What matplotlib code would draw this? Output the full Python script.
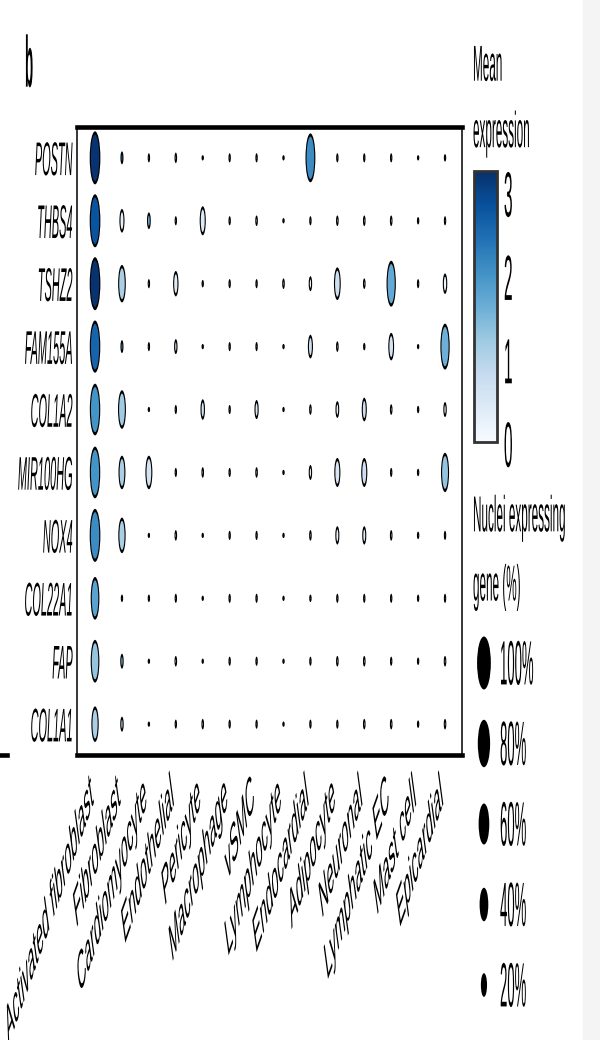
import numpy as np
import matplotlib
matplotlib.use('Agg')
import matplotlib.pyplot as plt
from matplotlib.collections import EllipseCollection
from matplotlib.patheffects import AbstractPathEffect
from matplotlib.transforms import Affine2D
from matplotlib.colors import Normalize
from matplotlib.cm import ScalarMappable
from matplotlib.lines import Line2D
from matplotlib.patches import Rectangle

plt.rcParams['font.family'] = ['Liberation Sans', 'DejaVu Sans']

# ---------------- data ----------------
genes = ['POSTN', 'THBS4', 'TSHZ2', 'FAM155A', 'COL1A2', 'MIR100HG',
         'NOX4', 'COL22A1', 'FAP', 'COL1A1']
cell_types = ['Activated fibroblast', 'Fibroblast', 'Cardiomyocyte',
              'Endothelial', 'Pericyte', 'Macrophage', 'vSMC', 'Lymphocyte',
              'Endocardial', 'Adipocyte', 'Neuronal', 'Lymphatic EC',
              'Mast cell', 'Epicardial']

# percentage of nuclei expressing gene (rows = genes, cols = cell types)
pct_postn    = [100, 6, 3, 4, 1, 3, 3, 1, 85, 3, 3, 3, 1, 2]
pct_thbs4    = [100, 20, 10, 3, 30, 3, 4, 1, 3, 4, 4, 4, 2, 3]
pct_tshz2    = [100, 50, 3, 23, 2, 3, 3, 4, 8, 38, 4, 75, 3, 15]
pct_fam155a  = [97, 6, 3, 8, 1, 3, 3, 1, 20, 4, 2, 27, 1, 75]
pct_col1a2   = [95, 53, 1, 3, 15, 3, 13, 1, 4, 10, 20, 4, 2, 8]
pct_mir100hg = [95, 40, 40, 3, 4, 3, 4, 1, 8, 30, 30, 3, 2, 55]
pct_nox4     = [100, 45, 1, 4, 1, 3, 3, 1, 4, 12, 12, 4, 2, 3]
pct_col22a1  = [65, 2, 2, 3, 1, 3, 3, 1, 2, 3, 3, 3, 2, 3]
pct_fap      = [65, 8, 1, 4, 1, 3, 3, 1, 3, 4, 4, 3, 2, 4]
pct_col1a1   = [45, 8, 1, 3, 4, 3, 3, 1, 3, 3, 4, 4, 2, 4]

# mean expression
expr_postn    = [3.2, 2.5, 0.5, 1.5, 0.1, 0.5, 0.5, 0.1, 2.1, 0.5, 0.5, 0.5, 0.1, 0.3]
expr_thbs4    = [2.8, 0.3, 1.5, 0.5, 0.45, 0.3, 0.3, 0.1, 0.3, 0.3, 0.3, 0.3, 0.1, 0.2]
expr_tshz2    = [3.2, 1.1, 0.3, 0.4, 0.2, 0.3, 0.3, 0.3, 0.2, 0.7, 0.3, 1.7, 0.3, 0.2]
expr_fam155a  = [2.6, 2.0, 0.3, 0.8, 0.1, 0.3, 0.3, 0.1, 0.7, 0.3, 0.3, 0.6, 0.1, 1.6]
expr_col1a2   = [2.0, 1.2, 0.1, 0.3, 0.6, 0.3, 0.5, 0.1, 0.3, 0.3, 0.7, 0.3, 0.1, 0.3]
expr_mir100hg = [2.0, 1.1, 0.6, 0.3, 0.3, 0.3, 0.3, 0.1, 0.3, 0.5, 0.7, 0.3, 0.1, 1.3]
expr_nox4     = [2.1, 1.1, 0.1, 0.3, 0.1, 0.3, 0.3, 0.1, 0.3, 0.2, 0.4, 0.3, 0.1, 0.2]
expr_col22a1  = [1.8, 0.1, 0.1, 0.3, 0.1, 0.2, 0.2, 0.1, 0.2, 0.2, 0.2, 0.2, 0.1, 0.2]
expr_fap      = [1.3, 1.5, 0.1, 0.3, 0.1, 0.2, 0.2, 0.1, 0.2, 0.2, 0.2, 0.2, 0.1, 0.2]
expr_col1a1   = [1.1, 1.0, 0.1, 0.3, 0.2, 0.2, 0.2, 0.1, 0.2, 0.2, 0.2, 0.2, 0.1, 0.2]

legend_pcts = [100, 80, 60, 40, 20]
legend_labels = ['100%', '80%', '60%', '40%', '20%']
cbar_ticks = [0, 1, 2, 3]
expr_max = 3.25

pct = np.array([pct_postn, pct_thbs4, pct_tshz2, pct_fam155a, pct_col1a2,
                pct_mir100hg, pct_nox4, pct_col22a1, pct_fap, pct_col1a1], float)
expr = np.array([expr_postn, expr_thbs4, expr_tshz2, expr_fam155a, expr_col1a2,
                 expr_mir100hg, expr_nox4, expr_col22a1, expr_fap, expr_col1a1], float)


# ---------------- helper: tall, narrow (condensed-looking) text ----------------
class Stretch(AbstractPathEffect):
    """Draw text glyphs stretched vertically around the text anchor."""
    def __init__(self, text, sy, dx=0.0, dy=0.0):
        super().__init__()
        self.text = text
        self.sy = sy
        self.dx = dx
        self.dy = dy

    def draw_path(self, renderer, gc, tpath, affine, rgbFace=None):
        y0 = self.text.get_transform().transform(
            self.text.get_unitless_position())[1]
        m = np.array([[1, 0, self.dx],
                      [0, self.sy, y0 * (1 - self.sy) + self.dy],
                      [0, 0, 1]])
        renderer.draw_path(gc, tpath, Affine2D(m @ affine.get_matrix()), rgbFace)


def condensed(t, size, sx, dx=0.0, dy=0.0):
    """Text that looks like `size` pt compressed horizontally by `sx`."""
    t.set_fontsize(size * sx)
    t.set_path_effects([Stretch(t, 1.0 / sx, dx, dy)])
    return t


# ---------------- figure ----------------
W, H = 600, 1040
fig = plt.figure(figsize=(W / 100, H / 100), dpi=100)
fig.add_artist(Rectangle((583 / W, 0), 17 / W, 1, transform=fig.transFigure,
                         color='#f4f4f4', zorder=-5))

ax = fig.add_axes([77 / W, 1 - 755 / H, 385 / W, 628 / H])
ax.set_xlim(-0.67, len(cell_types) - 1 + 0.63)
ax.set_ylim(len(genes) - 1 + 0.49, -0.49)

cmap = plt.get_cmap('Blues')
norm = Normalize(0, expr_max)

HMAX = 53.0     # px height of a 100% dot
CAP, SIDE = 3.3, 1.1

xx, yy = np.meshgrid(np.arange(len(cell_types)), np.arange(len(genes)))
offs = np.column_stack([xx.ravel(), yy.ravel()])
hh = HMAX * np.sqrt(pct.ravel() / 100.0)
ww = np.maximum(0.19 * hh + 0.6, 2.4)
hi = np.clip(hh - 2 * CAP, 0, None)
wi = np.clip(ww - 2 * SIDE, 0, None)
wi[hi == 0] = 0

outer = EllipseCollection(ww, hh, np.zeros_like(hh), units='dots',
                          offsets=offs, offset_transform=ax.transData,
                          facecolors='black', edgecolors='none')
inner = EllipseCollection(wi, hi, np.zeros_like(hh), units='dots',
                          offsets=offs, offset_transform=ax.transData,
                          facecolors=cmap(norm(expr.ravel())), edgecolors='none')
ax.add_collection(outer)
ax.add_collection(inner)

for s in ['top', 'bottom']:
    ax.spines[s].set_linewidth(3.3)
for s in ['left', 'right']:
    ax.spines[s].set_linewidth(1.1)

ax.set_yticks(range(len(genes)))
ax.set_yticklabels(genes, fontstyle='italic', va='center_baseline')
ax.set_xticks(range(len(cell_types)))
ax.set_xticklabels(cell_types, rotation=31.7, ha='right',
                   va='top', rotation_mode='anchor')
ax.tick_params(axis='both', length=0)
ax.tick_params(axis='y', pad=3)
ax.tick_params(axis='x', pad=9)
for t in ax.get_yticklabels():
    condensed(t, 34, 0.232)
for t in ax.get_xticklabels():
    condensed(t, 39.6, 0.217, dx=-6)

# panel label
condensed(fig.text(25 / W, 1 - 38 / H, 'b', fontweight='bold',
                   ha='left', va='top'), 52, 0.185)

# stub line at lower left
fig.add_artist(Line2D([0, 7 / W], [1 - 755 / H] * 2, lw=3.3, color='black'))

# ---------------- colour bar ----------------
condensed(fig.text(473 / W, 1 - 101 / H, 'Mean\nexpression',
                   ha='left', va='center', linespacing=1.38), 36.4, 0.232)
cax = fig.add_axes([474 / W, 1 - 442 / H, 23 / W, 271 / H])
cb = fig.colorbar(ScalarMappable(norm=norm, cmap=cmap), cax=cax, ticks=cbar_ticks)
cb.outline.set_edgecolor('#333333')
cb.outline.set_linewidth(2)
cax.tick_params(length=0, pad=5)
for t in cax.get_yticklabels():
    condensed(t, 46, 0.243)

# ---------------- size legend ----------------
condensed(fig.text(473 / W, 1 - 553 / H, 'Nuclei expressing\ngene (%)',
                   ha='left', va='center', linespacing=1.45), 36.4, 0.232)
lax = fig.add_axes([466 / W, 0, 134 / W, 420 / H])
lax.set_xlim(0, 1)
lax.set_ylim(4.683, -0.534)
lax.axis('off')
lh = HMAX * np.sqrt(np.array(legend_pcts) / 100.0)
lw_ = 0.26 * lh
ly = np.arange(len(legend_pcts))
lax.add_collection(EllipseCollection(lw_, lh, np.zeros_like(lh), units='dots',
                                     offsets=np.column_stack([np.full(len(ly), 0.134), ly]),
                                     offset_transform=lax.transData,
                                     facecolors='black', edgecolors='none'))
for yv, lab in zip(ly, legend_labels):
    condensed(lax.text(0.254, yv, lab, ha='left', va='center_baseline'), 45, 0.21)

fig.savefig('out.png', dpi=100)
